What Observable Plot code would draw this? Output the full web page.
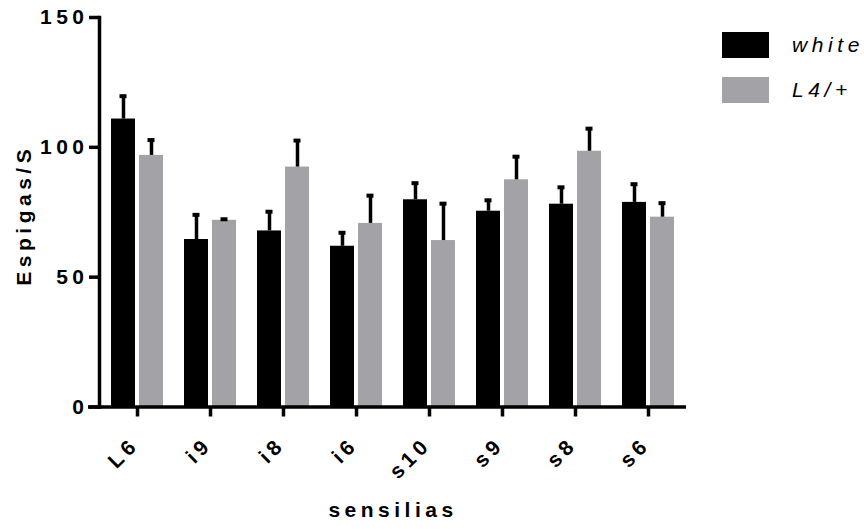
<!DOCTYPE html>
<html>
<head>
<meta charset="utf-8">
<script src="https://cdn.jsdelivr.net/npm/d3@7"></script>
<script src="https://cdn.jsdelivr.net/npm/@observablehq/plot@0.6"></script>
<style>
  html, body { margin: 0; padding: 0; background: #fff; overflow: hidden; }
  #wrap { position: relative; width: 864px; height: 529px; }
  #legend { position: absolute; left: 722px; top: 32px; font-family: "Liberation Sans", Arial, sans-serif; white-space: nowrap; }
  .row { display: flex; align-items: center; height: 26px; margin-bottom: 19px; }
  .sw { width: 47px; height: 26px; margin-right: 23px; }
  .lab { font-style: italic; font-size: 21px; letter-spacing: 4.6px; color: #000; line-height: 26px; }
</style>
</head>
<body>
<div id="wrap"><div id="chart"></div><div id="legend"></div></div>
<script>
const categories = ["L6", "i9", "i8", "i6", "s10", "s9", "s8", "s6"];
const seriesNames = ["white", "L4/+"];
const seriesColors = ["#000000", "#a3a2a7"];
const whiteMean = [110.9, 64.5, 67.8, 61.9, 79.8, 75.4, 78.1, 78.8];
const whiteSem  = [8.8, 9.5, 7.4, 5.2, 6.4, 4.2, 6.5, 7.0];
const l4Mean    = [96.9, 71.9, 92.4, 70.7, 64.1, 87.5, 98.5, 73.1];
const l4Sem     = [5.9, 0.4, 10.2, 10.7, 14.2, 8.9, 8.7, 5.4];
const yTicks = [0, 50, 100, 150];
const yLabel = "Espigas/S";
const xLabel = "sensilias";

const white = categories.map((c, i) => ({sensilia: c, mean: whiteMean[i], top: whiteMean[i] + whiteSem[i]}));
const l4 = categories.map((c, i) => ({sensilia: c, mean: l4Mean[i], top: l4Mean[i] + l4Sem[i]}));

const font = "'Liberation Sans', Arial, sans-serif";
const chart = Plot.plot({
  width: 864,
  height: 529,
  marginLeft: 99,
  marginRight: 178,
  marginTop: 17,
  marginBottom: 122.5,
  style: {fontFamily: font, fontWeight: "bold", fontSize: "21px", letterSpacing: "4.5px", color: "black", background: "white"},
  x: {domain: categories, paddingInner: 0.29, paddingOuter: 0.145, align: 0.5, axis: null},
  y: {domain: [0, 150], axis: null},
  marks: [
    Plot.barY(white, {x: "sensilia", y: "mean", fill: seriesColors[0], insetRight: 28}),
    Plot.barY(l4, {x: "sensilia", y: "mean", fill: seriesColors[1], insetLeft: 28}),
    Plot.ruleX(white, {x: "sensilia", y1: "mean", y2: "top", dx: -14, stroke: "black", strokeWidth: 3.5}),
    Plot.ruleX(l4, {x: "sensilia", y1: "mean", y2: "top", dx: 14, stroke: "black", strokeWidth: 3.5}),
    Plot.tickY(white, {x: "sensilia", y: "top", insetLeft: 8.5, insetRight: 36.5, stroke: "black", strokeWidth: 4}),
    Plot.tickY(l4, {x: "sensilia", y: "top", insetLeft: 36.5, insetRight: 8.5, stroke: "black", strokeWidth: 4}),
    Plot.frame({anchor: "left", stroke: "black", strokeWidth: 3.5}),
    Plot.ruleY([0], {stroke: "black", strokeWidth: 3.5, insetLeft: -11}),
    Plot.axisY({ticks: yTicks, tickSize: 10, tickPadding: 1, strokeWidth: 3.5, label: null, fontSize: 21, fontWeight: "bold"}),
    Plot.axisX({tickSize: 10, strokeWidth: 3.5, label: null, tickFormat: () => ""}),
    Plot.text(categories, {x: d => d, frameAnchor: "bottom", rotate: -45, textAnchor: "end", lineAnchor: "middle", dx: -2, dy: 34, fontSize: 21, fontWeight: "bold"}),
    Plot.text([yLabel], {frameAnchor: "left", rotate: -90, textAnchor: "middle", dx: -75, dy: 3, fontSize: 21, fontWeight: "bold", style: "letter-spacing:5.5px"}),
    Plot.text([xLabel], {frameAnchor: "bottom", textAnchor: "middle", dy: 110, fontSize: 21, fontWeight: "bold"})
  ]
});
document.getElementById("chart").appendChild(chart);

const legend = document.getElementById("legend");
seriesNames.forEach((name, i) => {
  const row = document.createElement("div");
  row.className = "row";
  const sw = document.createElement("div");
  sw.className = "sw";
  sw.style.background = seriesColors[i];
  const lab = document.createElement("span");
  lab.className = "lab";
  lab.textContent = name;
  row.appendChild(sw);
  row.appendChild(lab);
  legend.appendChild(row);
});
</script>
</body>
</html>
